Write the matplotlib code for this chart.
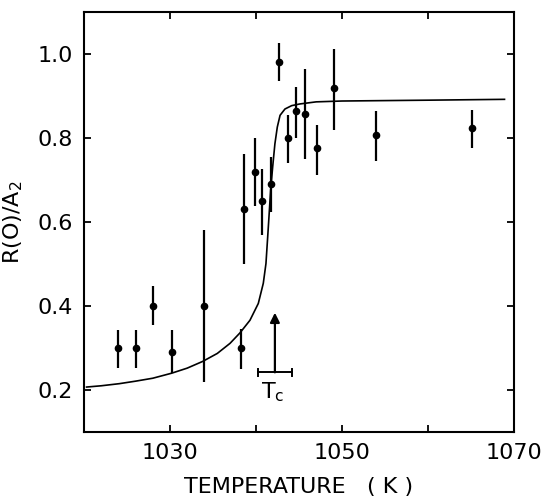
import matplotlib
matplotlib.use('Agg')
import matplotlib.pyplot as plt
import numpy as np

# measured points: temperature (K), R(0)/A2 and the ends of each error bar
temp = [1024.0, 1026.1, 1028.0, 1030.2, 1034.0, 1038.2, 1038.65, 1039.9, 1040.7,
        1041.7, 1042.7, 1043.7, 1044.65, 1045.7, 1047.1, 1049.1, 1054.0, 1065.1]
ratio = [0.30, 0.30, 0.40, 0.29, 0.40, 0.30, 0.63, 0.72, 0.65,
         0.69, 0.98, 0.80, 0.865, 0.857, 0.777, 0.919, 0.808, 0.823]
err_top = [0.344, 0.344, 0.447, 0.343, 0.58, 0.346, 0.762, 0.80, 0.727,
           0.754, 1.025, 0.855, 0.922, 0.964, 0.832, 1.013, 0.864, 0.866]
err_bot = [0.253, 0.253, 0.354, 0.24, 0.22, 0.249, 0.50, 0.638, 0.568,
           0.624, 0.935, 0.74, 0.80, 0.75, 0.712, 0.82, 0.745, 0.775]

# fitted curve
curve_t = [1020.3, 1022.0, 1024.1, 1026.0, 1028.0, 1030.2, 1032.0, 1033.8, 1035.5,
           1036.98, 1038.14, 1039.3, 1040.27, 1040.85, 1041.16, 1041.36, 1041.51,
           1041.7, 1041.94, 1042.2, 1042.48, 1042.8, 1043.37, 1044.15, 1045.1,
           1047.0, 1050.0, 1060.0, 1068.9]
curve_r = [0.207, 0.210, 0.215, 0.221, 0.228, 0.240, 0.252, 0.268, 0.287,
           0.311, 0.336, 0.366, 0.406, 0.454, 0.501, 0.564, 0.612,
           0.675, 0.731, 0.786, 0.826, 0.854, 0.869, 0.877, 0.881,
           0.886, 0.888, 0.890, 0.892]

# Tc marker: centre, spread, bar height, arrow tip
tc = 1042.2
tc_lo, tc_hi = 1040.2, 1044.2
tc_bar_y = 0.242
tc_tip_y = 0.384

fig = plt.figure(figsize=(5.5, 4.99), dpi=100)
ax = fig.add_axes([0.1527, 0.1343, 0.7818, 0.8417])

ratio = np.array(ratio)
yerr = [ratio - np.array(err_bot), np.array(err_top) - ratio]
ax.errorbar(temp, ratio, yerr=yerr, fmt='o', color='black', ms=4.5,
            elinewidth=1.6, capsize=0)
ax.plot(curve_t, curve_r, color='black', lw=1.2)

# Tc arrow and bar
ax.plot([tc_lo, tc_hi], [tc_bar_y, tc_bar_y], color='black', lw=1.4)
ax.plot([tc_lo, tc_lo], [tc_bar_y - 0.008, tc_bar_y + 0.008], color='black', lw=1.4)
ax.plot([tc_hi, tc_hi], [tc_bar_y - 0.008, tc_bar_y + 0.008], color='black', lw=1.4)
ax.annotate('', xy=(tc, tc_tip_y), xytext=(tc, tc_bar_y),
            arrowprops=dict(arrowstyle='-|>', color='black', lw=1.6,
                            mutation_scale=14, shrinkA=0, shrinkB=0))
ax.text(tc - 0.3, tc_bar_y - 0.02, 'T$_\\mathregular{c}$', fontsize=16,
        ha='center', va='top')

ax.set_xlim(1020, 1070)
ax.set_ylim(0.1, 1.1)
ax.set_xticks([1030, 1040, 1050, 1060, 1070])
ax.set_xticklabels(['1030', '', '1050', '', '1070'])
ax.set_yticks([0.2, 0.4, 0.6, 0.8, 1.0])
ax.set_yticklabels(['0.2', '0.4', '0.6', '0.8', '1.0'])
ax.tick_params(direction='in', top=True, right=True, length=5, width=1.3,
               labelsize=16, pad=8)
for s in ax.spines.values():
    s.set_linewidth(1.5)

ax.set_xlabel('TEMPERATURE   ( K )', fontsize=16, labelpad=10)
ax.set_ylabel('R(O)/A$_\\mathregular{2}$', fontsize=16)
ax.yaxis.set_label_coords(-0.137, 0.5)

fig.savefig('out.png', dpi=100)
